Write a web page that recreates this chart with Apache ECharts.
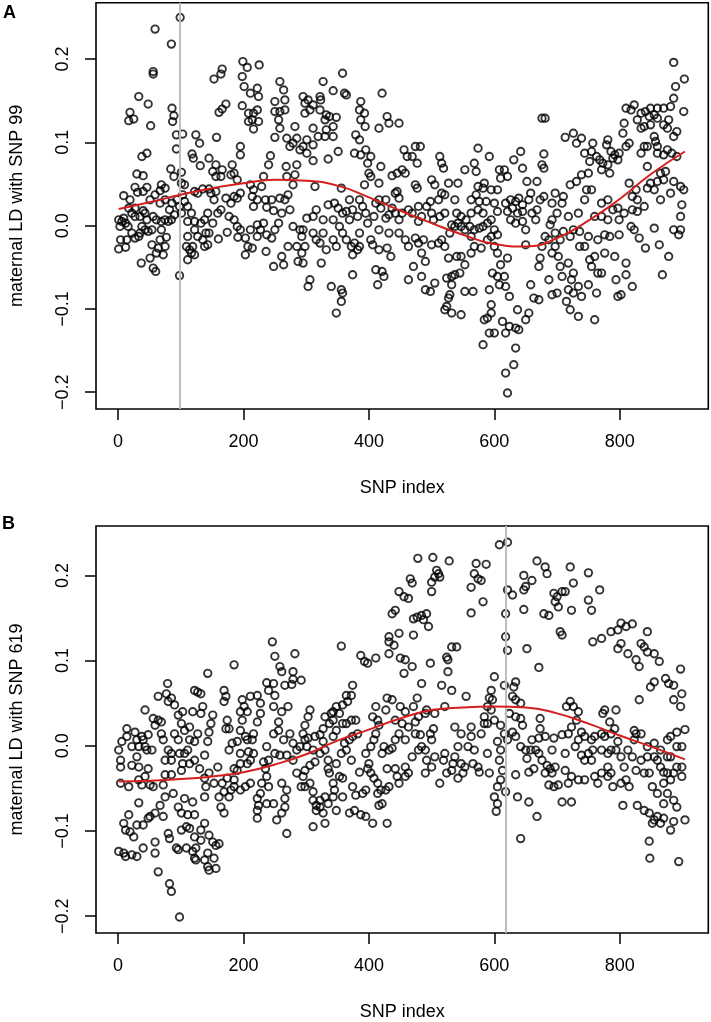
<!DOCTYPE html>
<html><head><meta charset="utf-8">
<script src="https://cdn.jsdelivr.net/npm/echarts@6/dist/echarts.min.js"></script>
<style>html,body{margin:0;padding:0;background:#fff}#c{width:711px;height:1022px}</style>
</head><body><div id="c"></div>
<script>
// ---------- DATA ----------
const xTicks = [0, 200, 400, 600, 800];
const yTicks = [-0.2, -0.1, 0, 0.1, 0.2];
const focalSnpA = 99;
const focalSnpB = 619;
const yTitleA = 'maternal LD with SNP 99';
const yTitleB = 'maternal LD with SNP 619';
const xTitle = 'SNP index';

// panel A: [SNP index, maternal LD]
const pointsA = [
[99,.25],[59,.236],[85,.218],[56,.185],[56,.182],[33,.155],[48,.146],[19,.136],[17,.126],[25,.128],[52,.12],[86,.141],[89,.132],[87,.125],[93,.109],[103,.11],[93,.092],[124,.109],[130,.099],[157,.106],[118,.086],[120,.081],[131,.072],[38,.083],[46,.087],[30,.062],[40,.06],[9,.036],[27,.046],[46,.046],[31,.04],[40,.041],[84,.068],[89,.059],[101,.064],[101,.051],[106,.049],[69,.049],[75,.045],[67,.042],
[1,.007],[3,-.001],[6,.005],[12,.003],[16,-.001],[4,-.017],[1,-.028],[12,-.026],[14,-.017],[27,-.015],[33,-.013],[43,-.005],[48,-.007],[38,-.001],[35,.011],[43,.015],[22,.015],[17,.021],[27,.021],[40,.018],
[37,-.045],[51,-.039],[56,-.051],[60,-.055],[54,-.023],[64,-.027],[67,-.017],[72,-.035],[77,-.014],[61,-.033],[56,.011],[61,.007],[69,.005],[75,.007],[80,.005],[67,.027],[75,.031],[82,.019],[90,.013],[86,.027],[94,.031],[98,.023],[106,.029],[103,.037],
[98,-.06],[111,-.013],[109,-.025],[114,-.029],[117,-.033],[111,-.041],[122,-.035],
[19,.031],[51,.031],[59,.037],[9,.009],[27,.011],[46,.007],[54,-.005],[35,-.009],[22,-.009],[69,-.005],[75,-.025],[85,.007],[101,.015],[111,.023],[117,.015],[111,.005],[122,-.005],[127,-.013],[119,-.025],
[122,.005],[132,.003],[138,.007],[143,.015],[140,-.009],[135,-.017],[138,-.025],[143,-.023],[145,-.009],[160,-.016],[151,.003],[159,.015],[164,.019],[153,.031],[148,.039],[156,.041],[172,.033],[180,.027],[185,.035],[190,.033],[177,.011],[185,.007],[190,-.001],[195,-.005],[174,-.008],[191,-.014],[203,-.015],[207,-.025],[214,-.027],[203,-.035],[211,-.005],[222,.001],[227,-.005],[232,.003],[222,-.013],[237,-.011],[245,-.015],[236,-.031],[250,-.005],[256,.003],[261,.015],[248,.018],[237,.022],[235,.031],[245,.031],[258,.033],[274,.019],[266,.031],[271,.037],[279,.049],[269,.059],[285,.073],[282,.061],[268,.071],[274,.095],[279,.099],[285,.105],[282,.119],[290,.091],[269,.105],[258,.117],[256,.127],[250,.137],[258,.137],[266,.139],[266,.151],[264,.163],[258,.173],[250,.149],[250,.106],[243,.084],[240,.073],[232,.059],[229,.047],[216,.043],[222,.031],[216,.023],[195,.039],[211,.049],[214,.035],[190,.055],[185,.063],[180,.061],[182,.073],[195,.085],[195,.095],[166,.067],[164,.059],[156,.059],[156,.073],[151,.065],[145,.081],[122,.041],[127,.039],[135,.044],[145,.044],
[153,.176],[164,.182],[166,.188],[161,.136],[166,.14],[172,.146],[199,.197],[206,.19],[198,.179],[201,.167],[211,.159],[222,.165],[224,.155],[225,.193],[198,.144],[208,.135],[216,.135],[222,.139],[214,.127],[224,.125],[208,.125],[216,.116],
[261,-.037],[271,-.025],[264,-.047],[248,-.049],[287,-.043],[285,-.025],[279,-.001],[290,-.005],
[358,.183],[327,.173],[343,.162],[361,.159],[364,.157],[421,.159],[322,.155],[323,.151],[295,.155],[303,.151],[298,.147],[311,.145],[306,.139],[322,.139],[298,.135],
[332,.133],[337,.131],[348,.13],[330,.127],[343,.119],[332,.115],[343,.107],[330,.107],[319,.107],[311,.117],[301,.103],[295,.095],[301,.087],[311,.097],[311,.078],[335,.08],[351,.089],
[387,.149],[385,.139],[393,.135],[387,.127],[394,.119],[416,.117],[429,.131],[432,.123],[448,.123],
[379,.109],[385,.103],[377,.087],[387,.085],[403,.083],[398,.075],[395,.091],
[400,.063],[403,.059],[393,.049],[419,.071],[416,.051],[437,.06],[445,.063],[445,.041],[442,.039],[453,.067],[458,.063],[456,.091],[461,.083],[469,.083],[474,.095],[482,.095],[477,.075],[474,.049],[477,.045],[500,.055],[505,.049],[513,.083],[516,.075],[519,.069],[527,.051],[542,.051],[553,.067],[568,.075],[571,.065],[574,.093],[592,.083],[608,.067],[610,.057],[584,.051],[582,.045],[595,.043],[605,.043],[574,.047],[571,.037],[563,.031],[576,.029],[587,.029],[600,.027],[605,.017],
[314,.047],[356,.045],[301,.009],[316,.019],[335,.025],[345,.027],[351,.021],[343,.007],[358,.015],[364,.017],[369,.031],[374,.019],[369,.007],[382,.011],[385,.031],[395,.015],[398,.003],[411,.027],[416,.031],[419,.021],[408,.011],[427,.009],[432,.013],[437,.021],[442,.015],[448,.033],[453,.015],[448,.007],[463,.019],[469,.015],[479,.005],[484,.011],[492,.023],[498,.029],[500,.015],[511,.031],[516,.039],[521,.037],[513,.011],[521,.015],[532,.001],[537,-.001],[542,.003],[547,-.001],[553,-.005],[561,-.001],[568,-.005],[576,-.003],[582,-.001],[589,.003],[595,.007],[600,-.005],[605,-.011],[537,.031],[540,.015],[547,.011],[555,.007],[563,.015],[574,.019],[582,.015],
[390,.023],[427,.031],[479,.023],[503,.007],[563,-.013],[595,-.013],[529,-.009],[516,-.017],[432,-.009],[416,-.005],[385,-.009],[353,-.001],[327,.007],[311,.011],
[295,-.005],[293,-.013],[298,-.025],[293,-.033],[295,-.045],[311,-.009],[316,-.017],[322,-.021],[327,-.009],[332,-.029],[324,-.045],[343,-.017],[348,-.025],[358,-.009],[364,-.017],[372,-.025],[377,-.021],[385,-.025],[374,-.035],[382,-.029],[403,-.017],[406,-.023],[416,-.029],[429,-.027],[435,-.037],[411,-.053],[421,-.055],[424,-.061],[414,-.071],[374,-.059],[306,-.065],[303,-.073],[340,-.073],[356,-.077],[358,-.081],[356,-.091],[348,-.105],[448,-.009],[458,-.017],[463,-.025],[474,-.015],[479,-.021],[487,-.017],[484,-.033],[490,-.043],[471,-.049],[463,-.065],[484,-.061],[490,-.077],[498,-.079],[505,-.069],[500,-.023],[511,-.021],[521,-.025],[527,-.039],[540,-.037],[547,-.037],[553,-.047],[524,-.063],[532,-.061],[537,-.059],[545,-.057],[532,-.071],[529,-.083],[527,-.087],[524,-.097],[521,-.101],[532,-.105],[547,-.107],[553,-.079],[566,-.079],[563,-.033],[568,-.025],[579,-.027],[589,-.017],[600,-.025],[605,-.033],[610,-.047],[597,-.057],[605,-.061],[592,-.077],[608,-.071],[595,-.095],[595,-.105],[589,-.111],[584,-.113],[592,-.129],[600,-.129],[582,-.143],
[886,.196],[903,.176],[889,.167],[886,.153],[902,.137],[881,.143],[870,.141],[860,.141],[849,.141],[841,.137],[834,.135],[823,.145],[810,.141],[818,.139],[828,.127],[847,.131],[855,.133],[860,.129],[849,.121],[839,.119],[834,.117],[870,.121],[878,.127],[891,.113],[876,.117],[886,.107],
[855,.107],[857,.101],[860,.095],[844,.095],[839,.095],[860,.087],[870,.085],[876,.091],[883,.087],[891,.083],
[807,.123],[805,.111],[810,.095],[815,.099],[797,.079],[792,.085],[799,.087],[781,.103],[779,.097],[786,.089],[789,.081],[781,.073],[773,.075],[771,.067],[784,.063],[768,.079],[763,.083],[755,.089],[757,.099],[744,.087],[739,.105],[726,.111],[713,.106],[731,.099],[752,.077],[750,.063],[739,.061],[731,.053],[721,.049],[747,.043],[755,.043],
[676,.129],[681,.129],[679,.086],[676,.073],[679,.069],[642,.089],[631,.079],[645,.069],[652,.053],[668,.053],[658,.039],[621,.059],[616,.067],
[639,.033],[634,.029],[626,.031],[629,.021],[637,.015],[645,.025],[645,.017],[626,.007],[634,.003],[645,.005],[650,-.005],[650,-.023],[621,.017],[618,.027],[668,.019],[673,.031],[679,.035],[692,.027],[697,.039],[710,.035],[708,.027],[700,.015],[692,.007],[689,.001],[681,-.013],[687,-.017],[697,-.009],[705,-.017],[697,-.025],[692,-.033],[702,-.037],[710,-.007],[726,-.005],[721,-.013],[736,-.007],[736,-.025],[750,-.013],[765,-.017],[776,-.011],[784,-.013],[799,-.011],[771,.011],[771,.027],[781,.031],[789,.019],[797,.021],[799,.007],[815,.051],[820,.035],[828,.031],[826,.043],[820,.019],[828,.017],[844,.045],[849,.051],[855,.043],[860,.053],[870,.055],[865,.063],[873,.065],[886,.053],[897,.047],[902,.043],[899,.025],[897,.011],[897,-.005],[894,-.011],[886,-.005],[855,-.003],[863,-.023],[878,-.037],[868,-.059],[841,-.027],[823,-.005],[831,-.015],[818,-.001],
[655,.031],[660,.015],[666,.007],[718,.011],[734,.015],[744,.031],[760,.011],[781,.007],[807,.015],[839,.023],[865,.031],[881,.039],[834,.087],[844,.071],[676,-.025],[744,-.025],[776,-.033],
[792,-.037],[794,-.065],[810,-.045],[820,-.073],[810,-.059],[797,-.085],[802,-.083],[760,-.037],[752,-.041],[755,-.049],[765,-.057],[771,-.057],[750,-.071],[763,-.081],[760,-.113],[734,-.109],[739,-.085],[726,-.081],[718,-.077],[715,-.091],[721,-.101],[734,-.073],[723,-.065],[726,-.057],[718,-.045],[708,-.061],[705,-.049],[700,-.081],[692,-.083],[687,-.065],[671,-.049],[673,-.039],[658,-.071],[663,-.087],[671,-.089],[655,-.105],[650,-.113],[637,-.101],[634,-.123],[639,-.125],[624,-.121],[634,-.147],[631,-.167],[618,-.177],[621,-.201],[618,-.129],[613,-.115],[624,-.085],[618,-.073],[616,-.061],[621,-.039]
];

// panel A smooth trend: [SNP index, fitted LD]
const trendA = [[1,.020],[50,.028],[100,.037],[150,.045],[200,.051],[250,.055],[300,.054],[350,.048],[400,.034],[450,.018],[500,.003],[550,-.011],[600,-.022],[650,-.025],[700,-.015],[750,.006],[800,.032],[850,.062],[904,.089]];

// panel B: [SNP index, maternal LD]
const pointsB = [
[246,.122],[250,.105],[258,.093],[261,.087],[282,.108],[279,.087],[279,.078],[266,.071],[277,.072],[292,.077],
[237,.074],[240,.065],[248,.073],[250,.059],[248,.046],[261,.04],[256,.028],[256,.018],[271,.046],[264,.007],[279,.003],[285,-.005],[290,-.001],[279,-.017],[269,-.011],[258,-.011],[250,-.009],[240,-.017],[232,-.019],[235,-.027],[237,-.036],[229,-.044],[240,-.048],[227,-.056],[222,-.062],[224,-.07],[222,-.076],[222,-.085],[237,-.068],[248,-.068],[253,-.087],[261,-.079],[266,-.072],[266,-.062],[269,-.052],[261,-.044],[269,-.103],[285,-.032],[292,-.048],
[1,-.124],[9,-.126],[12,-.13],[22,-.128],[30,-.13],[40,-.12],[59,-.113],[59,-.126],[64,-.148],[82,-.162],[85,-.171],[98,-.201],[93,-.12],[82,-.109],[80,-.103],[75,-.06],[67,-.07],[59,-.079],[51,-.083],[40,-.093],[30,-.093],[25,-.107],[19,-.101],[12,-.099],[9,-.091],[17,-.081],[33,-.067],[48,-.085],[72,-.083],[88,-.056],[96,-.072],[101,-.079],[106,-.062],[111,-.081],[119,-.066],[122,-.081],[101,-.099],[109,-.095],[114,-.097],[122,-.107],[124,-.12],[119,-.124],[122,-.132],[132,-.099],[138,-.091],[132,-.111],[145,-.105],[151,-.113],[156,-.117],[161,-.115],[143,-.142],[145,-.146],[156,-.144],[153,-.132],[143,-.126],[138,-.134],[124,-.134],[109,-.12],[96,-.122],
[4,-.044],[17,-.048],[33,-.04],[43,-.036],[51,-.046],[38,-.046],[56,-.048],[72,-.046],[75,-.034],[85,-.034],[33,-.025],[48,-.027],[22,-.023],[4,-.025],[4,-.017],[1,-.005],[6,.005],[14,.011],[14,.02],[27,.016],[30,.007],[33,-.001],[40,.007],[43,-.001],[48,.013],[54,-.005],[46,-.005],[30,-.013],[59,.024],[56,.032],[64,.03],[69,.028],[72,.007],[75,-.017],[85,-.017],[80,-.005],[90,.014],[90,.048],[80,.052],[77,.061],[85,.056],[79,.073],[64,.058],[43,.042],[96,.036],[103,.04],[101,.026],[106,.018],[114,.022],[119,.04],[122,.065],[127,.063],[132,.061],[135,.046],[132,.038],[122,.005],[111,-.005],[106,-.009],[98,-.009],[103,-.021],[114,-.021],[138,-.011],[138,-.038],[140,-.048],[138,-.06],[159,-.025],[166,-.044],[169,-.054],[161,-.06],[164,-.072],[169,-.079],[177,-.06],[180,-.052],[174,-.038],[185,-.048],[195,-.052],[203,-.048],[211,-.044],[190,-.029],[185,-.027],[206,-.021],[211,-.017],[208,-.007],[195,-.009],[177,-.005],[182,.003],[190,.005],[203,.011],[206,.007],[214,.007],[216,.014],[198,.03],[195,.018],[222,.028],[227,.038],[227,.05],[222,.059],[211,.058],[198,.054],[201,.046],[206,.04],[195,.04],[174,.03],[177,.02],[172,.02],[169,.052],[172,.058],[169,.065],[151,.036],[148,.026],[145,.016],[143,.005],[185,.095],[143,.085],
[22,-.001],[38,.011],[69,.014],[96,.007],[114,.007],[127,.014],[85,-.009],[101,-.029],[122,-.017],[130,-.027],[145,-.032],[153,-.044],[185,-.04],[195,-.021],[216,-.009],[237,-.001],[248,.014],[274,.014],
[608,.236],[478,.22],[502,.221],[528,.217],[508,.206],[511,.202],[505,.198],[500,.192],[500,.181],[513,.198],[571,.214],[587,.213],[568,.202],[574,.196],[579,.194],[563,.186],[563,.156],[582,.169],
[466,.196],[469,.191],[448,.181],[456,.175],[463,.173],[442,.159],[437,.155],[471,.149],[477,.151],[484,.153],[492,.155],[487,.148],[495,.14],[448,.132],[432,.128],[432,.122],[440,.118],[432,.108],[471,.13],[356,.117],[387,.106],[393,.099],[398,.097],[411,.103],[450,.103],[458,.101],[456,.085],[469,.093],[498,.097],[524,.104],[532,.116],[540,.116],[526,.101],[526,.087],[484,.073],[516,.071],[532,.065],[555,.058],[477,.056],[429,.056],[437,.054],[450,.046],
[616,.071],[600,.081],[595,.065],[592,.056],[597,.054],[589,.046],[584,.034],[595,.042],[600,.03],[584,.026],[589,.026],[610,.024],[616,.014],[605,.005],[610,-.005],[608,-.017],[613,-.029],[610,-.04],[605,-.048],[600,-.06],[605,-.068],[603,-.077],[592,-.032],[576,-.031],[574,-.025],[566,-.021],[568,-.005],[558,-.001],[563,.011],[547,.014],[542,-.001],[537,-.013],[547,-.021],[550,-.032],[542,-.038],[532,-.029],[534,-.021],[521,-.009],[519,-.017],[524,-.032],[513,-.044],[505,-.013],[500,.007],[498,.014],[503,.02],[492,.042],[490,.038],[479,.034],[474,.028],[471,.046],[458,.04],[453,.026],[448,.014],[458,.007],[442,.007],[437,-.003],[432,-.005],[424,-.001],[421,-.009],[429,-.027],[442,-.027],[445,-.036],[458,-.025],[463,-.032],[469,-.013],[479,-.005],[484,-.001],[490,-.005],[492,-.017],[474,.014],[482,.013],
[414,.03],[406,.034],[416,.024],[411,.014],[408,.007],[403,-.001],[395,-.009],[400,-.021],[398,-.027],[403,-.032],[408,-.038],[414,-.044],[419,-.052],[427,-.052],[414,-.056],[416,-.07],[421,-.068],[429,-.091],[406,-.091],[395,-.083],[387,-.081],[377,-.076],[379,-.058],[390,-.056],[374,-.048],[385,-.031],[372,-.017],[364,-.005],[361,.003],[369,.007],[374,.011],[382,.014],[379,.03],[372,.03],[364,.026],[358,.026],[353,.038],[358,.048],[366,.052],[372,.059],[374,.071],[364,.059],[348,.046],[340,.038],[343,.03],[337,.026],[327,.02],[322,.013],[314,.011],[303,.009],[298,.007],[301,-.001],[311,-.005],[322,-.009],[314,-.019],[306,-.023],[298,-.029],[295,-.036],[298,-.048],[306,-.044],[311,-.054],[311,-.064],[316,-.07],[322,-.072],[327,-.079],[330,-.091],[311,-.095],[335,-.068],[343,-.06],[345,-.052],[343,-.044],[337,-.032],[335,-.027],[348,-.021],[353,-.036],[358,-.038],[356,-.009],[330,-.005],[335,-.017],[343,.011],[348,.018],[327,.005],[306,.042],[303,.034],[298,.024],[295,.014],
[322,-.064],[330,-.06],[316,-.076],[330,.034],[343,.04],[411,.046],[427,.042],[442,.03],[463,.022],[505,.038],[521,.046],[537,.022],[563,.022],[579,.014],[589,-.009],[553,-.025],[500,-.025],[490,-.032],[458,-.036],[448,-.044],[432,-.048],[395,-.052],[358,-.06],[348,-.076],[369,-.079],
[621,.239],[668,.217],[681,.21],[684,.202],[721,.21],[726,.191],[750,.203],[768,.183],[647,.2],[660,.194],[650,.187],[647,.183],[629,.177],[621,.183],[695,.179],[700,.175],[708,.181],[713,.181],[697,.169],[702,.163],[723,.159],[750,.171],[755,.159],[647,.16],[679,.155],[687,.153],[705,.134],[708,.13],[757,.122],[771,.126],[786,.134],[797,.136],[802,.144],[810,.14],[820,.143],[797,.114],[802,.12],[813,.108],[826,.101],[831,.093],[834,.12],[844,.134],[839,.116],[844,.11],[855,.108],[863,.099],[618,.155],[618,.128],[621,.112],[652,.114],[671,.092],[897,.09],[855,.075],[849,.069],[873,.079],[878,.073],[886,.071],[899,.061],[886,.054],[897,.046],[831,.054],
[634,.075],[631,.069],[629,.058],[634,.054],[642,.05],[624,.038],[634,.034],[642,.032],[645,.024],[629,.016],[621,.007],[634,.011],[642,-.001],[650,-.005],[658,-.005],[666,-.005],[671,-.009],[652,-.015],[655,-.031],[663,-.027],[634,-.034],[618,-.054],[637,-.06],[655,-.066],[668,-.083],[642,-.109],[673,.032],[673,.02],[671,.009],[695,.009],[708,.013],[718,.014],[715,.046],[721,.052],[726,.046],[734,.04],[731,.03],[723,.022],[739,.016],[734,.007],[744,.011],[755,.007],[760,.011],[757,-.005],[750,-.009],[744,-.017],[739,-.011],[676,-.017],[684,-.023],[689,-.027],[697,-.025],[692,-.032],[713,-.029],[723,-.036],[734,-.04],[708,-.066],[723,-.066],[687,-.046],[695,-.048],[702,-.046],[760,-.036],[765,-.044],[771,-.032],[781,-.036],[789,-.048],[802,-.044],[810,-.04],[815,-.048],[805,-.07],[828,-.07],[839,-.076],[847,-.079],[855,-.087],[860,-.083],[865,-.091],[852,-.091],[870,-.085],[881,-.099],[886,-.089],[904,-.087],[891,-.072],[886,-.064],[876,-.056],[870,-.068],[860,-.056],[852,-.048],[847,-.032],[839,-.032],[826,-.029],[834,-.017],[820,-.013],[813,-.005],[823,.007],[826,.014],[797,.005],[794,-.005],[786,-.005],[781,-.009],[771,-.005],[776,.011],[771,.014],[773,.038],[776,.042],[794,.042],[784,.028],[792,.02],[786,.014],[834,.014],[823,.018],[844,-.013],[855,-.013],[860,-.017],[865,-.025],[870,-.031],[876,-.032],[881,-.04],[886,-.032],[891,-.025],[899,-.025],[899,-.036],[870,-.044],[876,-.013],[881,-.013],[891,-.001],[899,-.001],[904,.019],[891,.016],[876,.007],[847,-.112],[848,-.132],[894,-.136],
[660,.007],[681,.011],[692,-.005],[713,-.009],[729,-.001],[755,-.017],[781,-.025],[802,-.013],[807,-.025],[844,-.001],[855,.003],[865,-.005],[881,.011],[681,-.032],[718,-.044],[744,-.04],[786,-.032]
];

// panel B smooth trend
const trendB = [[1,-.042],[50,-.041],[100,-.039],[150,-.036],[200,-.031],[250,-.022],[300,-.010],[350,.006],[400,.019],[450,.032],[500,.042],[550,.045],[600,.046],[650,.045],[700,.038],[750,.026],[800,.012],[850,-.001],[904,-.016]];

// ---------- CHART ----------
const FONT = '"Liberation Sans", Arial, Helvetica, sans-serif';
const chart = echarts.init(document.getElementById('c'), null, {renderer: 'canvas'});

function fmtY(v) {
  const s = Math.abs(v).toFixed(1);
  return v < -1e-9 ? '\u2212' + s : s;
}
function xAxisCfg(gi) {
  return {
    gridIndex: gi, type: 'value', min: -35.2, max: 941.2, position: 'bottom',
    name: xTitle, nameLocation: 'middle', nameGap: 70,
    nameTextStyle: {fontFamily: FONT, fontSize: 18, color: '#000'},
    axisLine: {show: false, onZero: false},
    axisTick: {show: true, inside: false, length: 11, lineStyle: {color: '#000', width: 1.5}, customValues: xTicks},
    axisLabel: {show: true, margin: 24, fontFamily: FONT, fontSize: 18, color: '#000', customValues: xTicks},
    splitLine: {show: false}
  };
}
function yAxisCfg(gi, mn, mx, title) {
  return {
    gridIndex: gi, type: 'value', min: mn, max: mx, position: 'left',
    name: title, nameLocation: 'middle', nameGap: 70, nameRotate: 90,
    nameTextStyle: {fontFamily: FONT, fontSize: 18, color: '#000'},
    axisLine: {show: false, onZero: false},
    axisTick: {show: true, inside: false, length: 11, lineStyle: {color: '#000', width: 1.5}, customValues: yTicks},
    axisLabel: {show: true, rotate: 90, margin: 24, fontFamily: FONT, fontSize: 18, color: '#000', customValues: yTicks, formatter: fmtY},
    splitLine: {show: false}
  };
}
function scatterCfg(i, pts, focal) {
  return {
    type: 'scatter', xAxisIndex: i, yAxisIndex: i, data: pts,
    symbol: 'circle', symbolSize: 7.4, silent: true, z: 3,
    itemStyle: {color: 'rgba(0,0,0,0)', borderColor: '#000', borderWidth: 1.9},
    markLine: {
      silent: true, symbol: ['none', 'none'], label: {show: false},
      lineStyle: {color: '#bebebe', width: 2, type: 'solid'},
      data: [{xAxis: focal}], z: 4
    }
  };
}
function trendCfg(i, pts) {
  return {
    type: 'line', xAxisIndex: i, yAxisIndex: i, data: pts, smooth: 0.5,
    showSymbol: false, silent: true, z: 5,
    lineStyle: {color: '#d41f1f', width: 2}
  };
}

chart.setOption({
  animation: false,
  backgroundColor: '#fff',
  grid: [
    {left: 88.3, top: 2.7, width: 620, height: 406.3, show: true, borderColor: '#000', borderWidth: 1.6, backgroundColor: 'transparent'},
    {left: 88.3, top: 526, width: 620, height: 407.3, show: true, borderColor: '#000', borderWidth: 1.6, backgroundColor: 'transparent'}
  ],
  xAxis: [xAxisCfg(0), xAxisCfg(1)],
  yAxis: [yAxisCfg(0, -0.2202, 0.2677, yTitleA), yAxisCfg(1, -0.2198, 0.2580, yTitleB)],
  series: [scatterCfg(0, pointsA, focalSnpA), trendCfg(0, trendA), scatterCfg(1, pointsB, focalSnpB), trendCfg(1, trendB)],
  graphic: [
    {type: 'text', left: 3, top: 4, style: {text: 'A', font: 'bold 18px ' + FONT, fill: '#000'}},
    {type: 'text', left: 2, top: 515, style: {text: 'B', font: 'bold 18px ' + FONT, fill: '#000'}}
  ]
});
</script>
</body></html>
